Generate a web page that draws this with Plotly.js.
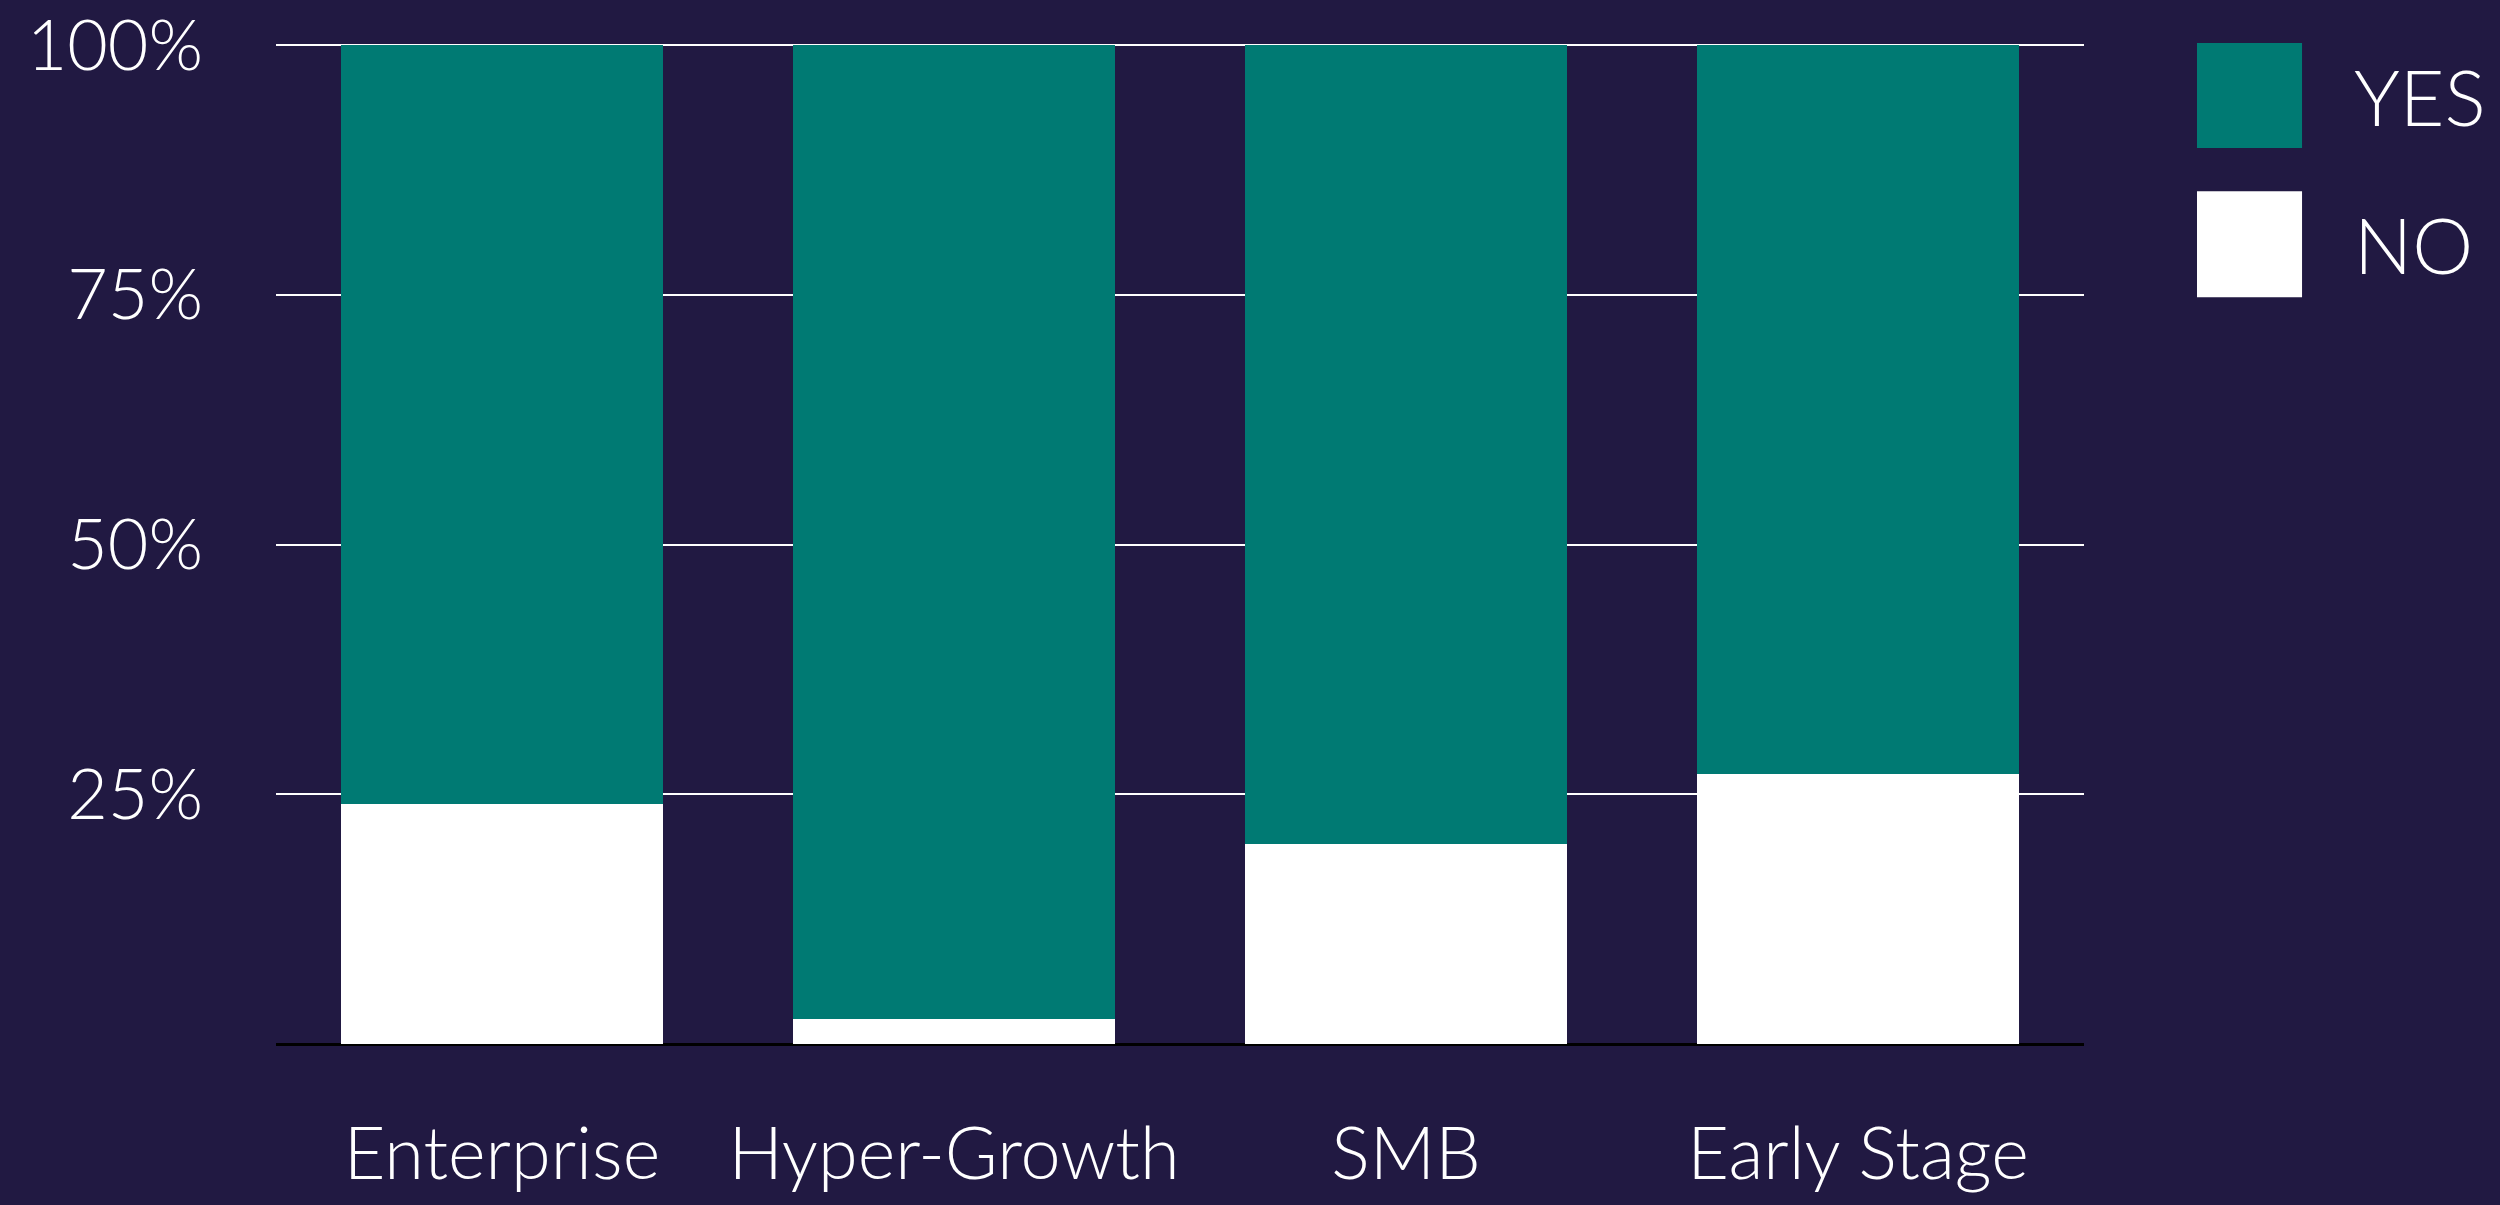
<!DOCTYPE html>
<html>
<head>
<meta charset="utf-8">
<script src="https://cdn.plot.ly/plotly-3.0.1.min.js"></script>
<style>
  html, body { margin: 0; padding: 0; background: #211942; }
  #chart { width: 2500px; height: 1205px; }
</style>
</head>
<body>
<div id="chart"></div>
<script>
// ---- data ----
var categories = ['Enterprise', 'Hyper-Growth', 'SMB', 'Early Stage'];
var noValues = [24, 2.5, 20, 27];
var yesValues = [76, 97.5, 80, 73];
var seriesNames = ['YES', 'NO'];
var tickValues = [25, 50, 75, 100];
var tickLabels = ['25%', '50%', '75%', '100%'];

var BG = '#211942';
var TEAL = '#007A73';
var WHITE = '#FFFFFF';
var FONT = 'Lato, "Open Sans", sans-serif';

var traces = [
  { type: 'bar', name: seriesNames[1], x: categories, y: noValues,
    marker: { color: WHITE, line: { width: 0 } }, showlegend: false, hoverinfo: 'x+y+name' },
  { type: 'bar', name: seriesNames[0], x: categories, y: yesValues,
    marker: { color: TEAL, line: { width: 0 } }, showlegend: false, hoverinfo: 'x+y+name' }
];

// custom legend (large squares) built from the series
var legendItems = [
  { name: seriesNames[0], color: TEAL, y0: 0.895, y1: 1.0 },
  { name: seriesNames[1], color: WHITE, y0: 0.746, y1: 0.852 }
];
var shapes = legendItems.map(function (it) {
  return { type: 'rect', xref: 'paper', yref: 'paper', x0: 1.0625, x1: 1.1206,
           y0: it.y0, y1: it.y1, fillcolor: it.color, line: { width: 0 } };
});
var annotations = legendItems.map(function (it) {
  return { xref: 'paper', yref: 'paper', x: 1.148, y: (it.y0 + it.y1) / 2,
           xanchor: 'left', yanchor: 'middle', showarrow: false, text: it.name,
           font: { family: FONT, size: 77, color: WHITE, weight: 300 } };
});

var layout = {
  width: 2500, height: 1205,
  paper_bgcolor: BG, plot_bgcolor: BG,
  margin: { l: 276, r: 416, t: 43, b: 161, pad: 0 },
  barmode: 'stack',
  bargap: 0.288,
  showlegend: false,
  font: { family: FONT, color: WHITE },
  xaxis: {
    type: 'category',
    tickfont: { family: FONT, size: 72, color: WHITE, weight: 300 },
    ticks: '', showgrid: false, showline: false, zeroline: false,
    ticklabelstandoff: 62, fixedrange: true
  },
  yaxis: {
    range: [0, 100.2],
    tickvals: tickValues, ticktext: tickLabels,
    tickfont: { family: FONT, size: 70, color: WHITE, weight: 300 },
    ticks: '', showgrid: true, gridcolor: WHITE, gridwidth: 2,
    zeroline: true, zerolinecolor: '#000000', zerolinewidth: 3,
    showline: false, ticklabelstandoff: 72, fixedrange: true
  },
  shapes: shapes,
  annotations: annotations
};

Plotly.newPlot('chart', traces, layout, { displayModeBar: false, staticPlot: true });
</script>
</body>
</html>
